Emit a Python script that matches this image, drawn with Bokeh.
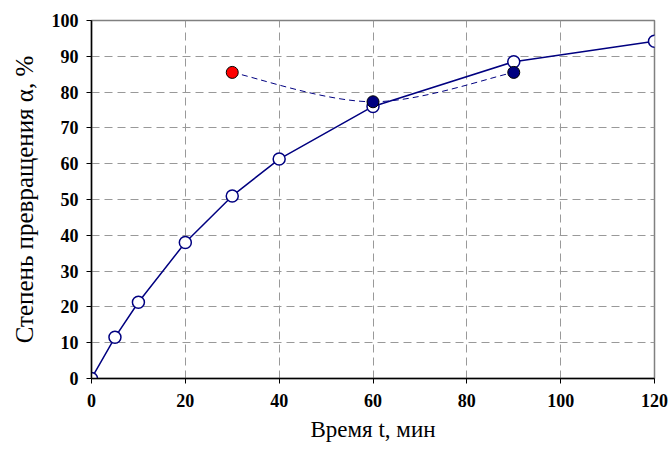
from bokeh.plotting import figure
from bokeh.models import Range1d, FixedTicker, ColumnDataSource
from bokeh.embed import file_html
from bokeh.resources import INLINE

# Main series: conversion degree vs time
t_main = [0, 5, 10, 20, 30, 40, 60, 90, 120]
a_main = [0, 11.5, 21.3, 38.0, 51.0, 61.3, 76.0, 88.5, 94.2]

# Second series (dashed, smoothed)
t_sec = [30, 60, 90]
a_sec = [85.5, 77.3, 85.5]
c_sec = ["#FF0000", "#000080", "#000080"]

x_ticks = [0, 20, 40, 60, 80, 100, 120]
y_ticks = [0, 10, 20, 30, 40, 50, 60, 70, 80, 90, 100]

x_label = "Время t, мин"
y_label = "Степень превращения α, %"

NAVY = "#000080"
SERIF = "Liberation Serif"

p = figure(width=669, height=450, output_backend="svg", toolbar_location=None,
           x_range=Range1d(0, 120), y_range=Range1d(0, 100),
           min_border_left=91, min_border_right=15, min_border_top=20, min_border_bottom=72)
p.background_fill_color = "white"
p.border_fill_color = "white"
p.outline_line_color = "#808080"
p.outline_line_width = 1.5

for ax in (p.xaxis[0], p.yaxis[0]):
    ax.axis_line_color = "black"
    ax.axis_line_width = 1.5
    ax.major_tick_line_color = "black"
    ax.major_tick_line_width = 1
    ax.major_tick_out = 5
    ax.major_tick_in = 0
    ax.minor_tick_line_color = None
    ax.major_label_text_font = SERIF
    ax.major_label_text_font_style = "bold"
    ax.major_label_text_font_size = "18px"
    ax.major_label_text_color = "black"
    ax.axis_label_text_font = SERIF
    ax.axis_label_text_font_style = "normal"
    ax.axis_label_text_color = "black"

p.xaxis[0].ticker = FixedTicker(ticks=x_ticks)
p.yaxis[0].ticker = FixedTicker(ticks=y_ticks)
p.xaxis[0].axis_label = x_label
p.yaxis[0].axis_label = y_label
p.xaxis[0].axis_label_text_font_size = "23px"
p.yaxis[0].axis_label_text_font_size = "25px"
p.xaxis[0].major_label_standoff = 10
p.yaxis[0].major_label_standoff = 8
p.xaxis[0].axis_label_standoff = 7
p.yaxis[0].axis_label_standoff = 11

p.xgrid[0].ticker = FixedTicker(ticks=x_ticks)
p.ygrid[0].ticker = FixedTicker(ticks=y_ticks)
for g in (p.xgrid[0], p.ygrid[0]):
    g.grid_line_color = "#999999"
    g.grid_line_dash = "8 5"
    g.grid_line_width = 1

# main series
p.line(t_main, a_main, line_color=NAVY, line_width=1.5)
p.scatter(t_main, a_main, size=12, fill_color="white", line_color=NAVY, line_width=1.5)

# smoothed dashed series (Catmull-Rom style Bezier segments built from the data)
n = len(t_sec)
x0, y0, x1, y1, cx0, cy0, cx1, cy1 = [], [], [], [], [], [], [], []
for i in range(n - 1):
    pm = max(i - 1, 0)
    pn = min(i + 2, n - 1)
    x0.append(t_sec[i]); y0.append(a_sec[i])
    x1.append(t_sec[i + 1]); y1.append(a_sec[i + 1])
    cx0.append(t_sec[i] + (t_sec[i + 1] - t_sec[pm]) / 6)
    cy0.append(a_sec[i] + (a_sec[i + 1] - a_sec[pm]) / 6)
    cx1.append(t_sec[i + 1] - (t_sec[pn] - t_sec[i]) / 6)
    cy1.append(a_sec[i + 1] - (a_sec[pn] - a_sec[i]) / 6)
p.bezier(x0=x0, y0=y0, x1=x1, y1=y1, cx0=cx0, cy0=cy0, cx1=cx1, cy1=cy1,
         line_color=NAVY, line_width=1, line_dash="6 4")
src2 = ColumnDataSource(dict(x=t_sec, y=a_sec, c=c_sec))
p.scatter("x", "y", source=src2, size=12, fill_color="c", line_color="black", line_width=1)

open("out.html", "w").write(file_html(p, INLINE))
